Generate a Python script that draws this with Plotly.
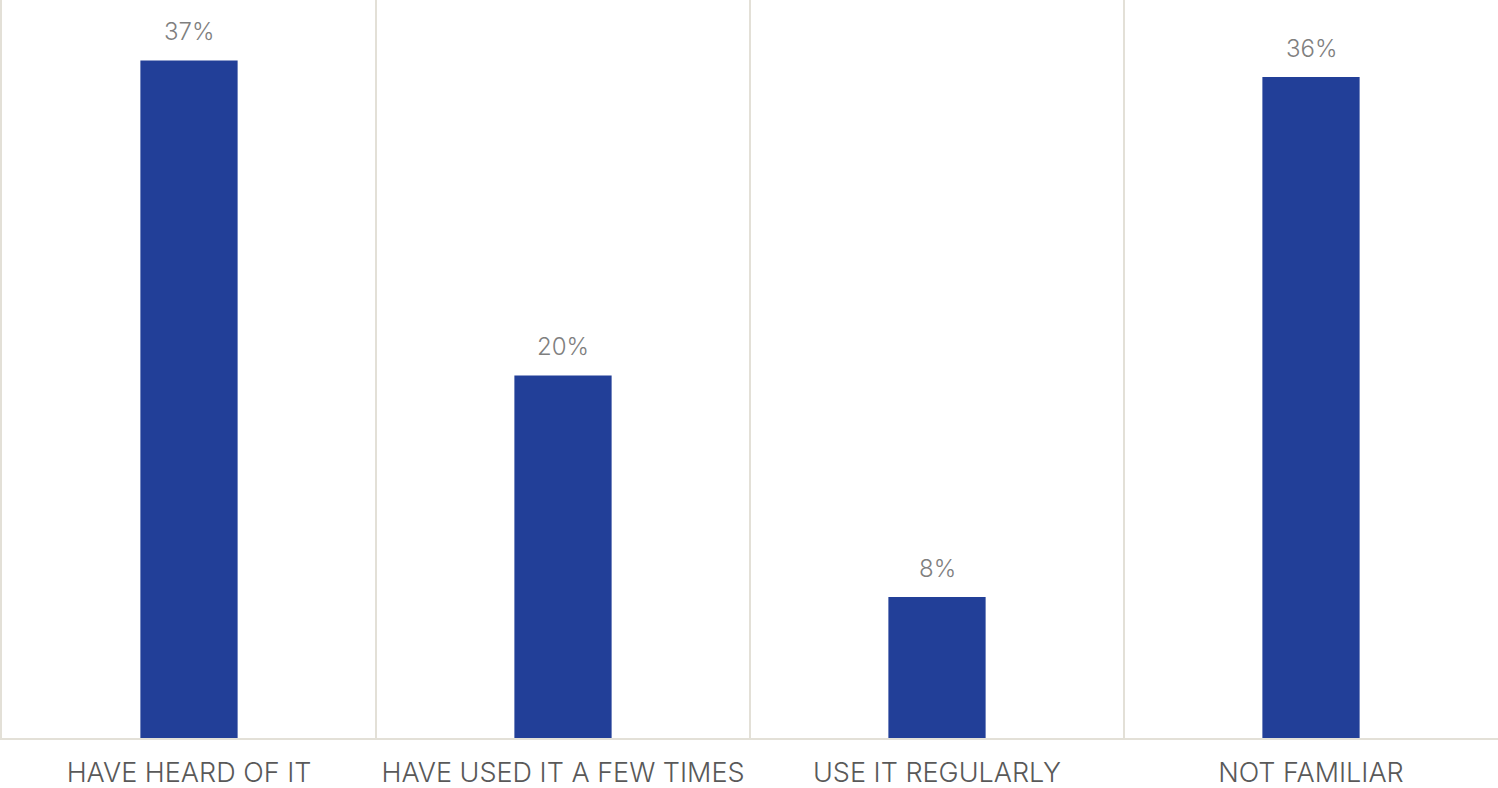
import plotly.graph_objects as go

categories = ["HAVE HEARD OF IT", "HAVE USED IT A FEW TIMES", "USE IT REGULARLY", "NOT FAMILIAR"]
values = [0.370, 0.198, 0.077, 0.361]
labels = ["37%", "20%", "8%", "36%"]

fig = go.Figure()
fig.add_trace(go.Bar(
    x=categories, y=values,
    marker=dict(color="#223F98", line=dict(width=0)),
    width=0.26,
    hoverinfo="skip",
))
for c, v, t in zip(categories, values, labels):
    fig.add_annotation(x=c, y=v, text=t, showarrow=False, yanchor="bottom",
                       yshift=12, font=dict(family="Inter", size=24, color="#7F7F7F", weight=300))

fig.update_layout(
    width=1498, height=788,
    margin=dict(l=2, r=0, t=0, b=50),
    paper_bgcolor="white", plot_bgcolor="white",
    showlegend=False,
    font=dict(family="Inter", color="#595959"),
)
fig.update_xaxes(
    type="category", tickson="boundaries", showgrid=True,
    gridcolor="#E3E0D7", gridwidth=1.5, automargin=False,
    showline=True, linecolor="#E3E0D7", linewidth=2,
    ticks="", ticklabelstandoff=10,
    tickfont=dict(family="Inter", size=27, color="#595959", weight=300),
)
fig.update_yaxes(range=[0, 0.403], showgrid=False, zeroline=False, automargin=False,
                 showticklabels=False, showline=True, linecolor="#E3E0D7", linewidth=2)

fig.write_html("out.html")
